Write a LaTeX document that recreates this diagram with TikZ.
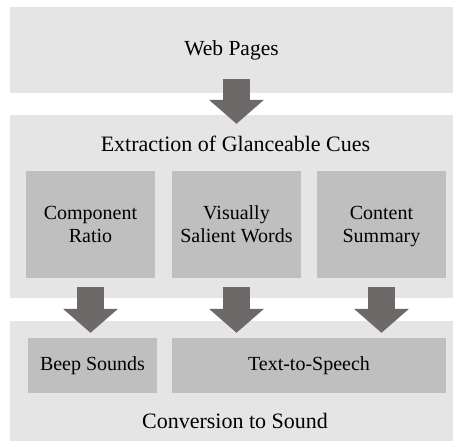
\documentclass[tikz,border=0pt]{standalone}
\usepackage{fontspec}
\setmainfont{Liberation Serif}
\usetikzlibrary{arrows.meta}
\definecolor{panelgray}{HTML}{E6E5E6}
\definecolor{boxgray}{HTML}{BFBFBF}
\definecolor{arrowgray}{HTML}{6D6969}
\tikzset{
  panel/.style={fill=panelgray,inner sep=0pt,minimum width=443pt,font=\fontsize{21.5}{25}\selectfont},
  cue/.style={fill=boxgray,inner sep=0pt,minimum width=129pt,minimum height=107pt,align=center,text depth=0pt,font=\fontsize{20}{23}\selectfont},
  sound/.style={fill=boxgray,inner sep=0pt,minimum height=55pt,font=\fontsize{20}{23}\selectfont},
  paneltitle/.style={anchor=base,font=\fontsize{22}{25}\selectfont},
  bigarrow/.style={arrowgray,line width=27pt,-{Triangle[width=55pt,length=24pt,line width=0pt]}}
}

\begin{document}
\begin{tikzpicture}[x=1pt,y=-1pt]
\useasboundingbox (0,0) rectangle (453,441);
\node [panel,minimum height=86pt] (web) at (231.5,50) {Web Pages};
\node [panel,minimum height=183pt] (ext) at (231.5,206.5) {};
\node [paneltitle] (exttitle) at (235.5,152) {Extraction of Glanceable Cues};
\node [cue] (ratio) at (90.5,224.5) {Component\\Ratio};
\node [cue] (words) at (236.5,224.5) {Visually\\Salient Words};
\node [cue] (summary) at (381.5,224.5) {Content\\Summary};
\node [panel,minimum height=120pt] (snd) at (231.5,381) {};
\node [sound,minimum width=129pt] (beep) at (92.5,365.5) {Beep Sounds};
\node [sound,minimum width=274pt] (tts) at (309,365.5) {Text-to-Speech};
\node [paneltitle] (sndtitle) at (235,428) {Conversion to Sound};
\draw [bigarrow] ([yshift=14pt]words.north |- web.south) -- ([yshift=-9pt]words.north |- ext.north);
\draw [bigarrow] ([yshift=-9pt]ratio.south) -- ([yshift=5pt]ratio.south |- beep.north);
\draw [bigarrow] ([yshift=-9pt]words.south) -- ([yshift=5pt]words.south |- tts.north);
\draw [bigarrow] ([yshift=-9pt]summary.south) -- ([yshift=5pt]summary.south |- tts.north);
\end{tikzpicture}
\end{document}
